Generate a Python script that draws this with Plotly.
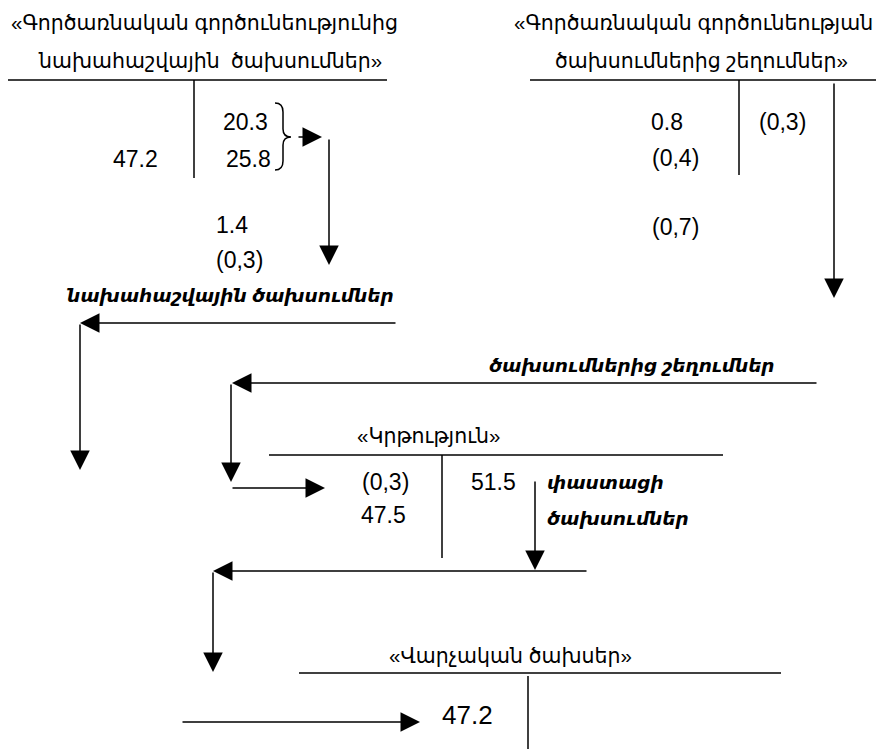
import plotly.graph_objects as go

# account titles (two-line ones split per line)
budget_title = ["«Գործառնական գործունեությունից", "նախահաշվային  ծախսումներ»"]
variance_title = ["«Գործառնական գործունեության", "ծախսումներից շեղումներ»"]
edu_title = ["«Կրթություն»"]
admin_title = ["«Վարչական ծախսեր»"]

# amounts in each account
budget_debit = ["47.2"]
budget_credit = ["20.3", "25.8"]
budget_flow = ["1.4", "(0,3)"]
variance_debit = ["0.8", "(0,4)"]
variance_credit = ["(0,3)"]
variance_flow = ["(0,7)"]
edu_debit = ["(0,3)", "47.5"]
edu_credit = ["51.5"]
admin_debit = ["47.2"]

# flow captions
flow_labels = ["նախահաշվային ծախսումներ", "ծախսումներից շեղումներ", "փաստացի", "ծախսումներ"]

# ---- layout (pixel positions on a 877x749 canvas) ----
W, H = 877, 749
font_num = "Liberation Sans, Arial, DejaVu Sans"
font_arm = "Liberation Sans, DejaVu Sans"
lw = 1.5

fig = go.Figure()

# T-account lines
t_lines = [
    (8, 80, 387, 80), (194, 80, 194, 178),
    (530, 80, 876, 80), (739, 80, 739, 175),
    (269, 455, 723, 455), (442, 455, 442, 558),
    (299, 673, 781, 673), (528, 676, 528, 749),
]
for x0, y0, x1, y1 in t_lines:
    fig.add_shape(type="line", x0=x0, y0=y0, x1=x1, y1=y1, xref="x", yref="y",
                  line=dict(color="black", width=lw))

# brace grouping 20.3 and 25.8
fig.add_shape(type="path", xref="x", yref="y",
              path="M 275,103 Q 283,103 283,112 L 283,129 Q 283,137 291,137 "
                   "Q 283,137 283,145 L 283,161 Q 283,170 275,170",
              line=dict(color="black", width=lw))

# arrows: (tail x, tail y, tip x, tip y)
arrows = [
    (297, 137, 322, 137),
    (329, 138, 329, 265),
    (834, 82, 834, 298),
    (397, 323, 80, 323),
    (80, 323, 80, 470),
    (818, 383, 232, 383),
    (231, 383, 231, 482),
    (231, 488, 325, 488),
    (535, 480, 535, 570),
    (588, 571, 213, 571),
    (213, 571, 213, 672),
    (181, 722, 420, 722),
]
for ax, ay, x, y in arrows:
    fig.add_annotation(x=x, y=y, ax=ax, ay=ay, xref="x", yref="y", axref="x", ayref="y",
                       text="", showarrow=True, arrowhead=2, arrowsize=2.6, arrowwidth=lw,
                       arrowcolor="black", standoff=0, startstandoff=0)


def put(texts, xs, ys, size, family, xanchor="center", style="normal", weight="normal"):
    for t, x, y in zip(texts, xs, ys):
        fig.add_annotation(x=x, y=y, xref="x", yref="y", text=t, showarrow=False,
                           xanchor=xanchor, yanchor="middle",
                           font=dict(family=family, size=size, color="black",
                                     style=style, weight=weight))


# titles
put(budget_title, [204, 210], [22, 60], 20.5, font_arm)
put(variance_title, [693, 701], [22, 60], 20.5, font_arm)
put(edu_title, [428], [435], 20.5, font_arm)
put(admin_title, [510], [655], 20.5, font_arm)

# amounts
put(budget_debit, [135], [159], 23, font_num)
put(budget_credit, [245, 248], [122, 159], 23, font_num)
put(budget_flow, [232, 239], [225, 260], 23, font_num)
put(variance_debit, [667, 675], [122, 158], 23, font_num)
put(variance_credit, [782], [122], 23, font_num)
put(variance_flow, [675], [227], 23, font_num)
put(edu_debit, [385, 383], [482, 515], 23, font_num)
put(edu_credit, [493], [482], 23, font_num)
put(admin_debit, [467], [715], 26, font_num)

# italic flow captions
put(flow_labels[:2], [230, 632], [295, 365], 18.5, font_arm, style="italic", weight="bold")
put(flow_labels[2:], [545, 545], [482, 518], 18.5, font_arm, xanchor="left",
    style="italic", weight="bold")

fig.update_xaxes(range=[0, W], visible=False, fixedrange=True)
fig.update_yaxes(range=[H, 0], visible=False, fixedrange=True)
fig.update_layout(
    width=W, height=H,
    margin=dict(l=0, r=0, t=0, b=0),
    plot_bgcolor="white", paper_bgcolor="white",
    showlegend=False,
)

# drop the default page margin so the canvas sits at the window corner
fig.write_html("out.html", config={"displayModeBar": False},
               post_script="document.body.style.margin='0';")
